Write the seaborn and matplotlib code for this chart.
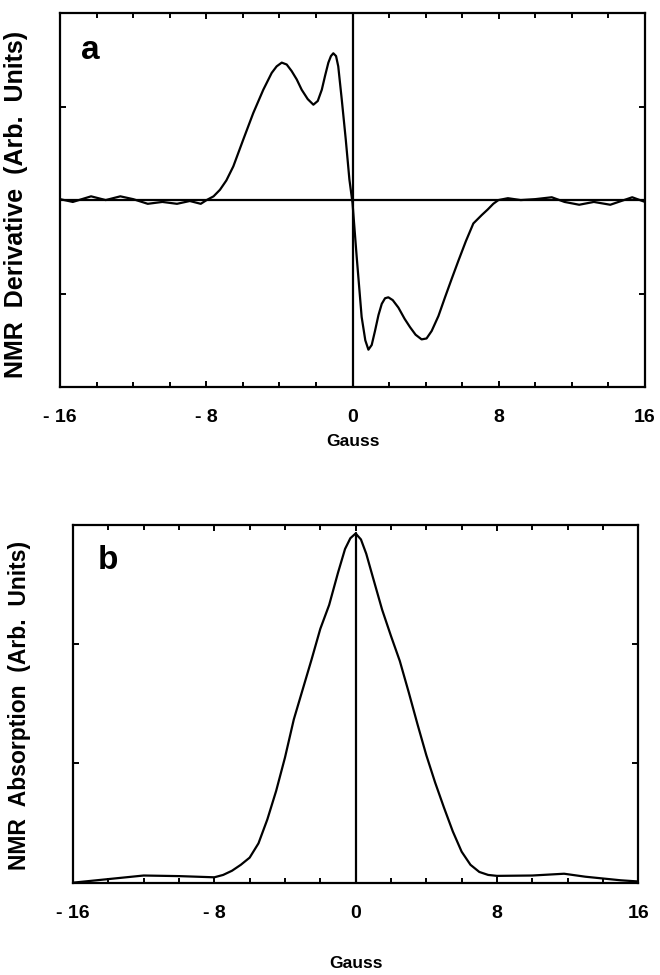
import numpy as np
import pandas as pd
import matplotlib
matplotlib.use("Agg")
import matplotlib.pyplot as plt
from matplotlib.ticker import MultipleLocator, FixedLocator
import seaborn as sns

# ---- data ----
deriv_x = [-16, -15.3, -14.3, -13.5, -12.7, -12.0, -11.2, -10.4, -9.6, -8.9, -8.3, -7.98,
           -7.6, -7.25, -6.9, -6.52, -5.97, -5.43, -4.88, -4.42, -4.15, -3.87, -3.6, -3.33,
           -3.05, -2.78, -2.45, -2.14, -1.9, -1.68, -1.5, -1.32, -1.18, -1.05, -0.9, -0.78,
           -0.59, -0.37, -0.17, 0.0, 0.23, 0.5, 0.7, 0.87, 1.05, 1.23, 1.42, 1.6, 1.78, 1.96,
           2.2, 2.51, 2.85, 3.15, 3.45, 3.78, 4.05, 4.33, 4.7, 5.06, 5.43, 5.79, 6.2, 6.61,
           7.07, 7.4, 7.7, 7.98, 8.5, 9.2, 10.0, 10.9, 11.6, 12.4, 13.2, 14.1, 14.7, 15.3, 16]
deriv_y = [0.01, -0.02, 0.04, 0.0, 0.04, 0.01, -0.04, -0.02, -0.04, -0.01, -0.04, 0.0,
           0.04, 0.11, 0.21, 0.36, 0.65, 0.93, 1.18, 1.36, 1.43, 1.47, 1.45, 1.38,
           1.29, 1.18, 1.08, 1.02, 1.06, 1.18, 1.33, 1.47, 1.54, 1.57, 1.54, 1.43,
           1.08, 0.65, 0.22, -0.03, -0.61, -1.25, -1.5, -1.6, -1.55, -1.4, -1.23, -1.11, -1.05, -1.04,
           -1.07, -1.15, -1.27, -1.36, -1.44, -1.49, -1.48, -1.40, -1.24, -1.04, -0.84, -0.65, -0.44, -0.25,
           -0.16, -0.1, -0.04, 0.0, 0.02, 0.0, 0.01, 0.03, -0.02, -0.05, -0.02, -0.05, -0.01, 0.03, -0.02]

absorb_x = [-16, -14, -12, -10, -8, -7.5, -7.0, -6.5, -6.0, -5.5, -5.0, -4.5, -4.0, -3.5,
            -3.0, -2.5, -2.0, -1.5, -1.0, -0.6, -0.3, 0.0, 0.3, 0.6, 1.0, 1.5, 2.0, 2.5, 3.0,
            3.5, 4.0, 4.5, 5.0, 5.5, 6.0, 6.5, 7.0, 7.5, 8.0, 10.0, 11.8, 13.0, 14.0, 15.0, 16.0]
absorb_y = [0.0, 0.03, 0.06, 0.055, 0.045, 0.065, 0.10, 0.15, 0.21, 0.33, 0.53, 0.77, 1.05, 1.37,
            1.62, 1.87, 2.13, 2.33, 2.6, 2.8, 2.89, 2.93, 2.88, 2.76, 2.55, 2.29, 2.07, 1.86, 1.60,
            1.33, 1.07, 0.84, 0.63, 0.43, 0.26, 0.15, 0.09, 0.065, 0.057, 0.06, 0.075, 0.05, 0.035, 0.02, 0.01]

x_major = [-16, -8, 0, 8, 16]
x_labels = ["- 16", "- 8", "0", "8", "16"]
panel_letters = ["a", "b"]
y_labels = ["NMR  Derivative  (Arb.  Units)", "NMR  Absorption  (Arb.  Units)"]
x_label = "Gauss"

# ---- style ----
sns.set_theme(style="ticks")
plt.rcParams["font.family"] = ["Liberation Sans", "DejaVu Sans"]
plt.rcParams["font.weight"] = "bold"
plt.rcParams["text.color"] = "black"
plt.rcParams["axes.labelcolor"] = "black"
plt.rcParams["xtick.color"] = "black"
plt.rcParams["ytick.color"] = "black"
plt.rcParams["axes.edgecolor"] = "black"

fig = plt.figure(figsize=(6.6, 9.75), dpi=100)
ax_a = fig.add_axes([0.0909, 0.603, 0.8864, 0.3836])
ax_b = fig.add_axes([0.1106, 0.0947, 0.8565, 0.3667])

df_a = pd.DataFrame({"x": deriv_x, "y": deriv_y})
df_b = pd.DataFrame({"x": absorb_x, "y": absorb_y})

lw = 1.6
sns.lineplot(data=df_a, x="x", y="y", ax=ax_a, color="black", linewidth=lw, sort=False)
sns.lineplot(data=df_b, x="x", y="y", ax=ax_b, color="black", linewidth=lw, sort=False)

ax_a.axhline(0, color="black", linewidth=lw, zorder=1)
ax_a.axvline(0, color="black", linewidth=lw, zorder=1)

ax_a.set_ylim(-2, 2)
ax_b.set_ylim(0, 3)
peak = max(absorb_y)
ax_b.axvline(0, ymin=0, ymax=peak / 3.0, color="black", linewidth=lw, zorder=1)

ax_a.yaxis.set_major_locator(FixedLocator([-1, 1]))
ax_b.yaxis.set_major_locator(FixedLocator([1, 2]))

label_coords = [(-0.054, 0.489), (-0.074, 0.497)]
label_sizes = [18, 16.5]
xlabel_pads = [5.5, 24.5]
letter_pos = [(0.051, 0.90), (0.062, 0.90)]

for i, ax in enumerate([ax_a, ax_b]):
    ax.set_xlim(-16, 16)
    ax.xaxis.set_major_locator(FixedLocator(x_major))
    ax.xaxis.set_minor_locator(MultipleLocator(2))
    ax.set_xticklabels(x_labels, fontsize=14, fontweight="bold")
    ax.set_yticklabels([])
    ax.tick_params(axis="both", which="both", direction="in", top=True, right=True,
                   width=1.4, color="black")
    ax.tick_params(axis="both", which="major", length=4.5)
    ax.tick_params(axis="x", which="major", pad=16)
    ax.tick_params(axis="x", which="minor", length=3.5)
    for s in ax.spines.values():
        s.set_linewidth(1.6)
        s.set_color("black")
    ax.set_xlabel(x_label, fontsize=12.5, fontweight="bold", labelpad=xlabel_pads[i])
    ax.set_ylabel(y_labels[i], fontsize=label_sizes[i], fontweight="bold")
    ax.yaxis.set_label_coords(*label_coords[i])
    ax.text(letter_pos[i][0], letter_pos[i][1], panel_letters[i], transform=ax.transAxes,
            fontsize=24, fontweight="bold", ha="center", va="center")
    ax.grid(False)

fig.savefig("out.png", dpi=100, facecolor="white")
